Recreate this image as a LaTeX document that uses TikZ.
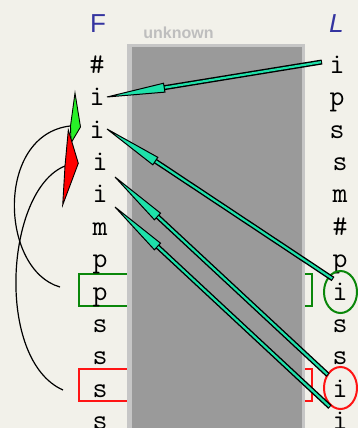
\documentclass[tikz,border=0pt]{standalone}
\usepackage{fontspec}
\usetikzlibrary{calc,shapes.geometric}
\newfontfamily\headsans{Liberation Sans}
\newfontfamily\headslant[FakeSlant=0.2]{Liberation Sans}
\definecolor{paper}{RGB}{242,241,234}
\definecolor{headblue}{RGB}{52,52,160}
\definecolor{slabgray}{RGB}{154,154,154}
\definecolor{rimgray}{RGB}{198,198,198}
\definecolor{tagtext}{RGB}{190,190,190}
\definecolor{boxgreen}{RGB}{10,135,10}
\definecolor{boxred}{RGB}{255,20,20}
\definecolor{mint}{RGB}{30,225,170}
\definecolor{tipgreen}{RGB}{40,240,40}
\definecolor{tipred}{RGB}{255,0,0}
\tikzset{
  letter/.style={font=\ttfamily\fontsize{29}{29}\selectfont, anchor=base, inner sep=0pt},
  heading/.style={text=headblue, anchor=base, inner sep=0pt},
  framebox/.style={draw, line width=2.5pt, minimum width=233pt, minimum height=32pt, inner sep=0pt},
  ring/.style={draw, ellipse, line width=2pt, minimum width=33pt, minimum height=42pt, inner sep=0pt},
  shaftout/.style={line width=5pt, black},
  shaftin/.style={line width=2.2pt, mint},
  headtip/.style={fill=mint, draw=black, line width=1pt, line join=miter},
  linkcurve/.style={line width=1.2pt, black},
  flag/.style={draw=black, line width=0.9pt, line join=miter},
}
% spear-shaped connector: thick outlined shaft with a long thin head
\newcommand\tealarrow[2]{%
  \path ($(#2)!56pt!(#1)$) coordinate (hb) ($(#2)!58pt!(#1)$) coordinate (hc);
  \draw[shaftout] (#1) -- (hb);
  \draw[shaftin] ($(#1)!1pt!(#2)$) -- (hb);
  \filldraw[headtip] (#2) -- ($(hc)!4.5pt!90:(#2)$) -- ($(hc)!4.5pt!-90:(#2)$) -- cycle;
}
\begin{document}
\begin{tikzpicture}[x=1pt,y=-1pt]
\useasboundingbox (0,0) rectangle (358,428);
\fill[paper] (0,0) rectangle (358,428);

% highlighted rows, partly hidden by the slab
\node[framebox, draw=boxgreen] (gbox) at (195.5,290) {};
\node[framebox, draw=boxred] (rbox) at (195.5,385) {};

% the unknown slab
\fill[rimgray] (127,44) rectangle (305,432);
\fill[slabgray] (132,47) rectangle (302,432);
\node[text=tagtext, anchor=base, inner sep=0pt, font=\headsans\bfseries\fontsize{16}{16}\selectfont] (tag) at (178.5,38.3) {unknown};

% column headings
\node[heading, font=\headsans\fontsize{26}{26}\selectfont] (F) at (98,33) {F};
\node[heading, font=\headslant\fontsize{26}{26}\selectfont] (L) at (335,33) {L};

% left column
\node[letter] (f0) at (97,73.2) {\#};
\node[letter] (f1) at (97,105.6) {i};
\node[letter] (f2) at (97,138.0) {i};
\node[letter] (f3) at (100,170.4) {i};
\node[letter] (f4) at (100,202.8) {i};
\node[letter] (f5) at (100,235.2) {m};
\node[letter] (f6) at (100,267.6) {p};
\node[letter] (f7) at (100,300.0) {p};
\node[letter] (f8) at (100,332.4) {s};
\node[letter] (f9) at (100,364.8) {s};
\node[letter] (f10) at (100,397.2) {s};
\node[letter] (f11) at (100,429.6) {s};

% right column
\node[letter] (l0) at (337,73.2) {i};
\node[letter] (l1) at (337,105.6) {p};
\node[letter] (l2) at (337,138.0) {s};
\node[letter] (l3) at (340,170.4) {s};
\node[letter] (l4) at (340,202.8) {m};
\node[letter] (l5) at (340,235.2) {\#};
\node[letter] (l6) at (340,267.6) {p};
\node[letter] (l7) at (340,300.0) {i};
\node[letter] (l8) at (340,332.4) {s};
\node[letter] (l9) at (340,364.8) {s};
\node[letter] (l10) at (340,397.2) {i};
\node[letter] (l11) at (340,429.6) {i};

% circled letters
\node[ring, draw=boxgreen] (gring) at (340.5,292) {};
\node[ring, draw=boxred] (rring) at (340.5,388) {};

% curved links from the boxes up to the flags
\coordinate (gstart) at (60,287);
\coordinate (gend) at (70,126);
\coordinate (rstart) at (63,390);
\coordinate (rend) at (65,166);
\draw[linkcurve] (gstart) .. controls (0,270) and (-5,135) .. (gend);
\draw[linkcurve] (rstart) .. controls (-5,360) and (5,190) .. (rend);

% flag heads
\filldraw[flag, fill=tipgreen] (75,93) -- (80.5,127) -- (71,143) -- (70.5,126) -- cycle;
\filldraw[flag, fill=tipred] (68.3,130) -- (78.3,163.3) -- (62.7,205) -- (65,166) -- cycle;

% connectors from the right column to the left column
\coordinate (a1s) at (322,62);   \coordinate (a1e) at (107,97);
\coordinate (a2s) at (333,279);  \coordinate (a2e) at (107,129);
\coordinate (a3s) at (328,375);  \coordinate (a3e) at (115,177);
\coordinate (a4s) at (330,407);  \coordinate (a4e) at (115,207);
\tealarrow{a1s}{a1e}
\tealarrow{a2s}{a2e}
\tealarrow{a3s}{a3e}
\tealarrow{a4s}{a4e}
\end{tikzpicture}
\end{document}
